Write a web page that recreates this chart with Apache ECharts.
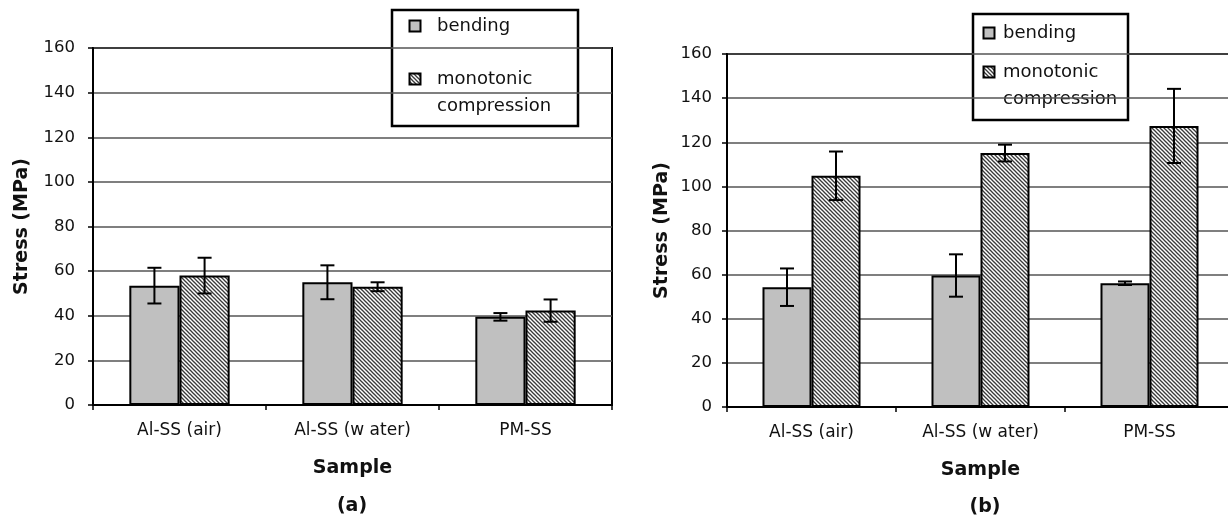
<!DOCTYPE html>
<html>
<head>
<meta charset="utf-8">
<script src="https://cdn.jsdelivr.net/npm/echarts@6/dist/echarts.min.js"></script>
<style>
html,body{margin:0;padding:0;background:#fff;overflow:hidden;width:1228px;height:520px;}
#c{width:1240px;height:520px;}
</style>
</head>
<body>
<div id="c"></div>
<script>
// ---- data ----
const categories = ['Al-SS (air)', 'Al-SS (w ater)', 'PM-SS'];
const seriesNames = ['bending', 'monotonic compression'];
const yTicks = [0, 20, 40, 60, 80, 100, 120, 140, 160];
// panel (a)
const bendingA = [53.5, 55.0, 39.5];
const bendingAErr = [8.0, 7.6, 1.7];
const compressionA = [58.0, 53.0, 42.3];
const compressionAErr = [8.0, 2.0, 5.0];
// panel (b)
const bendingB = [54.3, 59.6, 56.1];
const bendingBErr = [8.5, 9.6, 0.8];
const compressionB = [104.8, 115.1, 127.4];
const compressionBErr = [11.0, 3.8, 16.8];
const panelLabels = ['(a)', '(b)'];

// ---- styles ----
const FONT = '"DejaVu Sans", "Liberation Sans", Arial, sans-serif';
const GRAY = '#c0c0c0';
const GAP = 0.42;

function hatchCanvas() {
  const c = document.createElement('canvas');
  c.width = 4; c.height = 4;
  const g = c.getContext('2d');
  g.fillStyle = '#ffffff';
  g.fillRect(0, 0, 4, 4);
  g.strokeStyle = '#3a3a3a';
  g.lineWidth = 1.3;
  for (let k = -4; k <= 4; k += 4) {
    g.beginPath();
    g.moveTo(-1, -1 + k);
    g.lineTo(5, 5 + k);
    g.stroke();
  }
  return c;
}
const hatch = { image: hatchCanvas(), repeat: 'repeat' };

function errSeries(xi, yi, vals, errs, side) {
  return {
    type: 'custom',
    xAxisIndex: xi, yAxisIndex: yi,
    z: 10,
    silent: true,
    data: vals.map((v, i) => [i, v, errs[i]]),
    encode: { x: 0, y: 1 },
    renderItem: function (params, api) {
      const i = api.value(0), v = api.value(1), e = api.value(2);
      const band = api.size([1, 0])[0];
      const barW = band * (1 - GAP) / 2;
      const cx = api.coord([i, v])[0] + side * barW / 2;
      const top = api.coord([i, v + e])[1];
      const bot = api.coord([i, v - e])[1];
      const cap = 7;
      const st = { stroke: '#000', lineWidth: 2 };
      return {
        type: 'group',
        children: [
          { type: 'line', shape: { x1: cx, y1: top, x2: cx, y2: bot }, style: st },
          { type: 'line', shape: { x1: cx - cap, y1: top, x2: cx + cap, y2: top }, style: st },
          { type: 'line', shape: { x1: cx - cap, y1: bot, x2: cx + cap, y2: bot }, style: st }
        ]
      };
    }
  };
}

function barSeries(name, xi, yi, vals, color) {
  return {
    name: name, type: 'bar', xAxisIndex: xi, yAxisIndex: yi,
    data: vals, barGap: '0%', barCategoryGap: (GAP * 100) + '%',
    itemStyle: { color: color, borderColor: '#000', borderWidth: 2 },
    silent: true
  };
}

function xAxis(gi) {
  return {
    type: 'category', gridIndex: gi, data: categories,
    axisLine: { lineStyle: { color: '#000', width: 2 } },
    axisTick: { show: true, length: 5, lineStyle: { color: '#000', width: 1.5 } },
    axisLabel: { color: '#111', fontSize: 17, fontFamily: FONT, margin: 17 },
    name: 'Sample', nameLocation: 'middle', nameGap: 54,
    nameTextStyle: { color: '#111', fontSize: 19, fontWeight: 'bold', fontFamily: FONT }
  };
}
function yAxis(gi, labelMargin, nameGap) {
  return {
    type: 'value', gridIndex: gi, min: yTicks[0], max: yTicks[yTicks.length - 1], interval: yTicks[1] - yTicks[0],
    axisLine: { show: true, lineStyle: { color: '#000', width: 2 } },
    axisTick: { show: true, length: 5, lineStyle: { color: '#000', width: 1.5 } },
    axisLabel: { color: '#111', fontSize: 16.5, fontFamily: FONT, margin: labelMargin },
    splitLine: { show: true, lineStyle: { color: '#555', width: 1.5 } },
    name: 'Stress (MPa)', nameLocation: 'middle', nameGap: nameGap,
    nameTextStyle: { color: '#111', fontSize: 19, fontWeight: 'bold', fontFamily: FONT }
  };
}

function legendGraphic(x, y, w, h, iconX, row1, row2, row3, textX) {
  const txt = (t, yy) => ({ type: 'text', x: textX, y: yy, style: { text: t, fill: '#111', font: '18px ' + FONT, verticalAlign: 'middle', align: 'left' } });
  return {
    type: 'group', z: 100, children: [
      { type: 'rect', shape: { x: x, y: y, width: w, height: h }, style: { fill: '#fff', stroke: '#000', lineWidth: 2.5 } },
      { type: 'rect', shape: { x: iconX - 5.5, y: row1 - 5.5, width: 11, height: 11 }, style: { fill: GRAY, stroke: '#000', lineWidth: 2 } },
      txt(seriesNames[0], row1),
      { type: 'rect', shape: { x: iconX - 5.5, y: row2 - 5.5, width: 11, height: 11 }, style: { fill: hatch, stroke: '#000', lineWidth: 2 } },
      txt(seriesNames[1].split(' ')[0], row2),
      txt(seriesNames[1].split(' ')[1], row3)
    ]
  };
}

const chart = echarts.init(document.getElementById('c'), null, { renderer: 'canvas' });
chart.setOption({
  backgroundColor: '#fff',
  animation: false,
  grid: [
    { left: 93, top: 48, width: 519, height: 357, show: true, borderColor: '#000', borderWidth: 2, backgroundColor: '#fff' },
    { left: 727, top: 54, width: 507, height: 353, show: true, borderColor: '#000', borderWidth: 2, backgroundColor: '#fff' }
  ],
  xAxis: [xAxis(0), xAxis(1)],
  yAxis: [yAxis(0, 18, 61), yAxis(1, 15, 55)],
  series: [
    barSeries(seriesNames[0], 0, 0, bendingA, GRAY),
    barSeries(seriesNames[1], 0, 0, compressionA, hatch),
    barSeries(seriesNames[0], 1, 1, bendingB, GRAY),
    barSeries(seriesNames[1], 1, 1, compressionB, hatch),
    errSeries(0, 0, bendingA, bendingAErr, -1),
    errSeries(0, 0, compressionA, compressionAErr, 1),
    errSeries(1, 1, bendingB, bendingBErr, -1),
    errSeries(1, 1, compressionB, compressionBErr, 1)
  ],
  graphic: [
    legendGraphic(392, 10, 186, 116, 415, 26, 79, 106, 437),
    legendGraphic(973, 14, 155, 106, 989, 33, 72, 99, 1003),
    { type: 'text', x: 352, y: 506, style: { text: panelLabels[0], fill: '#111', font: 'bold 19px ' + FONT, align: 'center', verticalAlign: 'middle' } },
    { type: 'text', x: 985, y: 507, style: { text: panelLabels[1], fill: '#111', font: 'bold 19px ' + FONT, align: 'center', verticalAlign: 'middle' } }
  ]
});
</script>
</body>
</html>
